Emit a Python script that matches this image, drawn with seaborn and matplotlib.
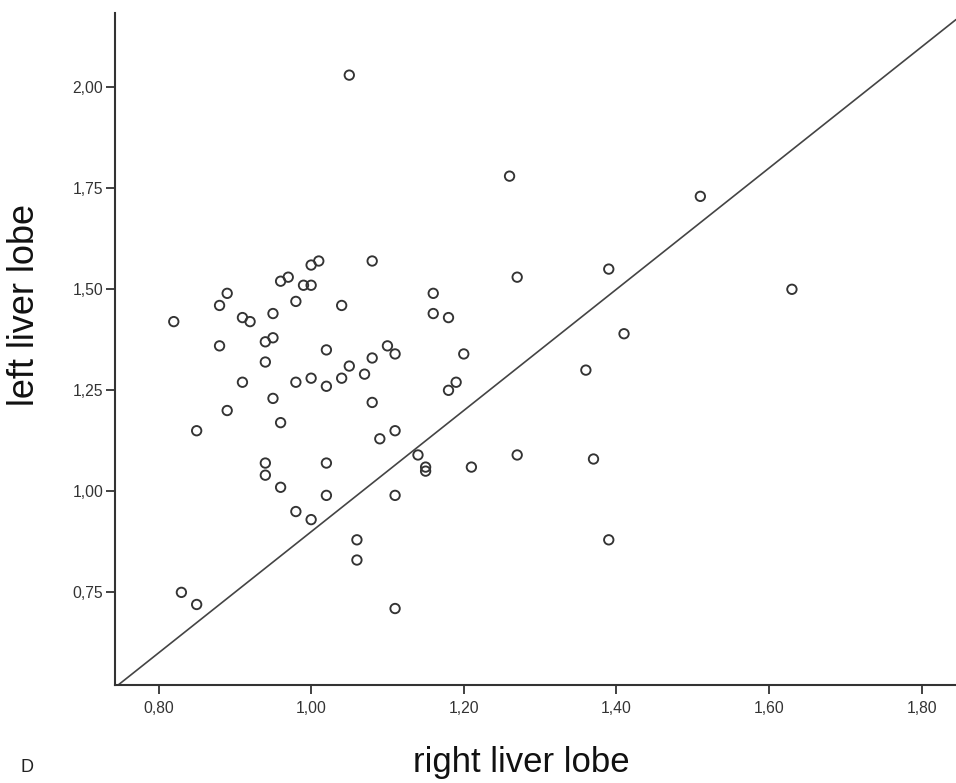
import matplotlib
matplotlib.use("Agg")
import matplotlib.pyplot as plt
import seaborn as sns
import numpy as np
import pandas as pd

# ---- data ----
right_lobe = [0.82, 0.89, 0.88, 0.88, 0.91, 0.92, 0.95, 0.96, 0.97, 0.98,
              0.99, 1.00, 1.00, 1.01, 1.08, 1.04, 0.94, 0.95, 0.94, 0.91,
              0.89, 0.85, 0.95, 0.96, 0.98, 1.00, 1.02, 1.02, 1.04, 1.05,
              1.07, 1.08, 1.08, 1.10, 1.11, 1.09, 1.11, 1.16, 1.16, 1.18,
              0.94, 0.94, 1.02, 0.96, 1.02, 1.11, 0.98, 1.00, 1.06, 1.06,
              0.83, 0.85, 1.11, 1.14, 1.15, 1.15, 1.27, 1.39, 1.41, 1.20,
              1.19, 1.18, 1.36, 1.21, 1.27, 1.37, 1.39, 1.51, 1.63, 1.05,
              1.26]
left_lobe = [1.42, 1.49, 1.46, 1.36, 1.43, 1.42, 1.44, 1.52, 1.53, 1.47,
             1.51, 1.51, 1.56, 1.57, 1.57, 1.46, 1.37, 1.38, 1.32, 1.27,
             1.20, 1.15, 1.23, 1.17, 1.27, 1.28, 1.35, 1.26, 1.28, 1.31,
             1.29, 1.33, 1.22, 1.36, 1.34, 1.13, 1.15, 1.49, 1.44, 1.43,
             1.07, 1.04, 1.07, 1.01, 0.99, 0.99, 0.95, 0.93, 0.88, 0.83,
             0.75, 0.72, 0.71, 1.09, 1.06, 1.05, 1.53, 1.55, 1.39, 1.34,
             1.27, 1.25, 1.30, 1.06, 1.09, 1.08, 0.88, 1.73, 1.50, 2.03,
             1.78]

x_ticks = [0.80, 1.00, 1.20, 1.40, 1.60, 1.80]
x_tick_labels = ["0,80", "1,00", "1,20", "1,40", "1,60", "1,80"]
y_ticks = [0.75, 1.00, 1.25, 1.50, 1.75, 2.00]
y_tick_labels = ["0,75", "1,00", "1,25", "1,50", "1,75", "2,00"]

ref_intercept = -0.6
ref_slope = 1.5

x_label = "right liver lobe"
y_label = "left liver lobe"
panel_label = "D"

df = pd.DataFrame({"right": right_lobe, "left": left_lobe})

# ---- style ----
sns.set_style("ticks")
plt.rcParams["font.family"] = ["Liberation Sans", "DejaVu Sans"]

dark = "#333333"
W, H = 956, 783
fig = plt.figure(figsize=(W / 100, H / 100), dpi=100)
ax = fig.add_axes([115 / W, (H - 685.3) / H, (956 - 115) / W, (685.3 - 13.3) / H])

sns.scatterplot(data=df, x="right", y="left", ax=ax, marker="o", s=46,
                facecolor="none", edgecolor=dark, linewidth=1.35, zorder=3)
ax.axline((0, ref_intercept), slope=ref_slope, color="#444444", lw=1.2, zorder=2)

ax.set_xlim(0.743, 1.845)
ax.set_ylim(0.52, 2.183)
ax.set_xticks(x_ticks)
ax.set_xticklabels(x_tick_labels)
ax.set_yticks(y_ticks)
ax.set_yticklabels(y_tick_labels)
ax.set_xlabel("")
ax.set_ylabel("")

for side in ["top", "right"]:
    ax.spines[side].set_visible(False)
for side in ["left", "bottom"]:
    ax.spines[side].set_color(dark)
    ax.spines[side].set_linewidth(1.5)

ax.tick_params(axis="both", colors=dark, labelcolor="#333333", labelsize=11.3,
               width=1.3, length=6.5)
ax.tick_params(axis="y", pad=2)
ax.tick_params(axis="x", pad=5)

fig.text(24.5 / W, (H - 305) / H, y_label, rotation=90, ha="center", va="center",
         fontsize=26, color="#111111")
fig.text(521 / W, (H - 772) / H, x_label, ha="center", va="baseline",
         fontsize=25, color="#111111")
fig.text(27.5 / W, (H - 767) / H, panel_label, ha="center", va="center",
         fontsize=13, color="#222222")

fig.savefig("out.png", dpi=100)
